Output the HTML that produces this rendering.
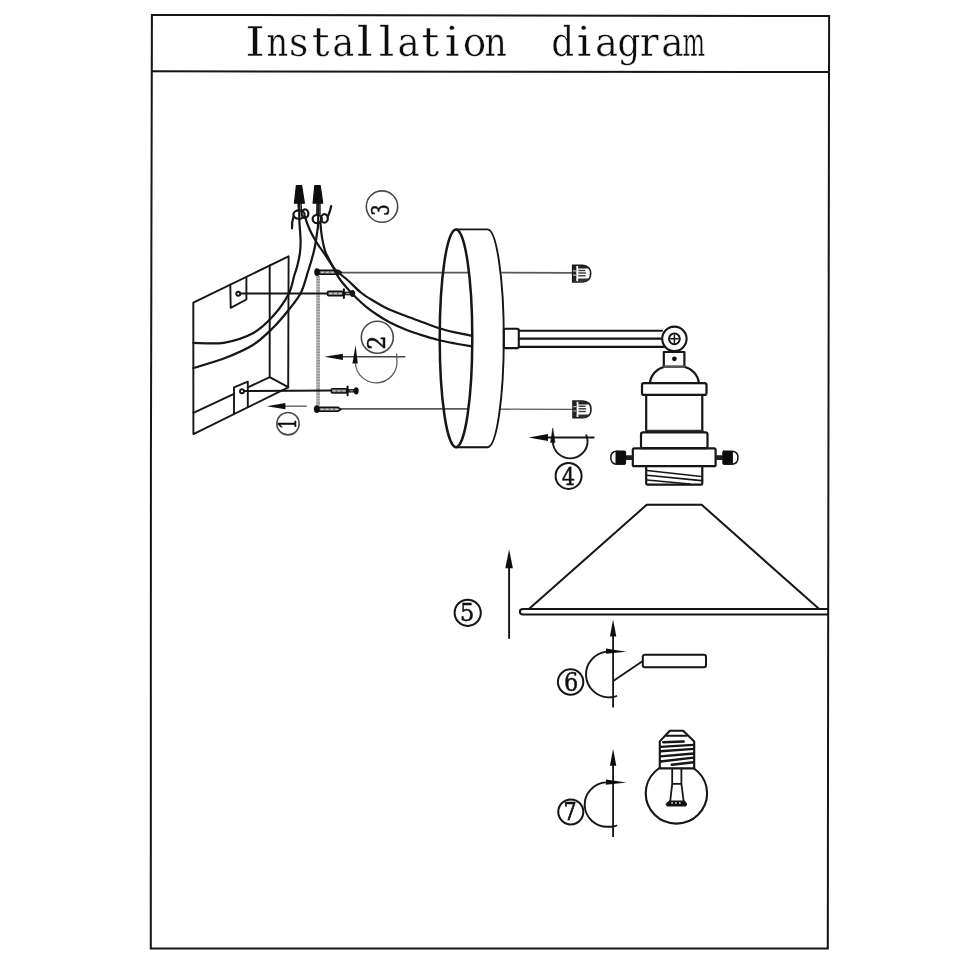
<!DOCTYPE html>
<html lang="en">
<head>
<meta charset="utf-8">
<title>Installation diagram</title>
<style>
html,body{margin:0;padding:0;background:#fff;}
body{width:960px;height:960px;overflow:hidden;font-family:"Liberation Serif",serif;}
svg{display:block;}
</style>
</head>
<body>
<svg width="960" height="960" viewBox="0 0 960 960">
<defs><filter id="soft" x="0" y="0" width="960" height="960" filterUnits="userSpaceOnUse"><feGaussianBlur stdDeviation="0.45"/></filter></defs>
<rect width="960" height="960" fill="#fff"/>
<g filter="url(#soft)">
<g id="frame" fill="none" stroke="#141414" stroke-width="2" stroke-linejoin="miter">
<path d="M151.9,14.9 L829.1,16 L828.2,600 L827.8,948.6 L150.8,948.4 L150.9,470 Z"/>
<path d="M152,71.3 L829,72"/>
</g>
<text id="title" aria-label="Installation  diagram" transform="scale(1,1.040)" y="54.13" xml:space="preserve" font-family="'DejaVu Serif', serif" font-size="40" fill="#111" stroke="#fff" stroke-width="0.4"><tspan x="244.9" textLength="20.12" lengthAdjust="spacingAndGlyphs">I</tspan><tspan x="266.5" textLength="21.65" lengthAdjust="spacingAndGlyphs">n</tspan><tspan x="288.9" textLength="19.29" lengthAdjust="spacingAndGlyphs">s</tspan><tspan x="311.8" textLength="17.93" lengthAdjust="spacingAndGlyphs">t</tspan><tspan x="332.2" textLength="21.98" lengthAdjust="spacingAndGlyphs">a</tspan><tspan x="356.6" textLength="16.41" lengthAdjust="spacingAndGlyphs">l</tspan><tspan x="378.6" textLength="16.04" lengthAdjust="spacingAndGlyphs">l</tspan><tspan x="397.5" textLength="22.27" lengthAdjust="spacingAndGlyphs">a</tspan><tspan x="421.5" textLength="17.88" lengthAdjust="spacingAndGlyphs">t</tspan><tspan x="444.5" textLength="15.33" lengthAdjust="spacingAndGlyphs">i</tspan><tspan x="462.8" textLength="23.57" lengthAdjust="spacingAndGlyphs">o</tspan><tspan x="484.6" textLength="22.32" lengthAdjust="spacingAndGlyphs">n</tspan>  <tspan x="551.3" textLength="22.82" lengthAdjust="spacingAndGlyphs">d</tspan><tspan x="576.6" textLength="14.96" lengthAdjust="spacingAndGlyphs">i</tspan><tspan x="595.0" textLength="23.02" lengthAdjust="spacingAndGlyphs">a</tspan><tspan x="617.6" textLength="22.82" lengthAdjust="spacingAndGlyphs">g</tspan><tspan x="639.8" textLength="18.93" lengthAdjust="spacingAndGlyphs">r</tspan><tspan x="661.2" textLength="22.33" lengthAdjust="spacingAndGlyphs">a</tspan><tspan x="682.4" textLength="22.61" lengthAdjust="spacingAndGlyphs">m</tspan></text>
<path d="M318.1,276 L318.1,405.5" stroke="#bcbcbc" stroke-width="3.6" fill="none"/>
<path d="M318.1,276 L318.1,405.5" stroke="#949494" stroke-width="3.6" stroke-dasharray="1.4 1.4" fill="none"/>
<g id="box" fill="none" stroke="#141414" stroke-width="1.9" stroke-linejoin="round" stroke-linecap="round">
<path d="M193.3,302.7 L288.6,256.3 L288.2,387.4 L193.4,434.1 Z"/>
<path d="M269.7,265.5 L269.7,377.2 L288.2,387.2"/>
<path d="M193.4,412.9 L234,393.9 M247.8,387.4 L269.7,377.2"/>
<path d="M230.3,284.5 L230.7,307.8 L246.4,299.5 L246.4,277"/>
<path d="M234,413.8 L234,387.4 L247.8,381.6 L247.8,407.3"/>
<circle cx="238.3" cy="293.7" r="2" stroke-width="1.9"/>
<circle cx="242" cy="391.3" r="2" stroke-width="1.9"/>
<path d="M240.5,293.6 L327.5,293.5" stroke-width="2"/>
<path d="M244.2,391 L331.2,390.6" stroke-width="2"/>
</g>
<g id="screws">
<g fill="none" stroke="#585858" stroke-width="1.7">
<path d="M340.8,272.6 L468.2,272.6 M501.4,272.6 L572,272.8"/>
<path d="M341.2,408.9 L468.6,408.9"/>
<path d="M500.2,409.2 L572.2,409.4" stroke-width="1.3"/>
</g>
<path d="M318.9,270.2 L338.1,270.2 L341.5,272.3 L338.1,274.4 L318.9,274.4 Z" fill="#6a6a6a" stroke="#111" stroke-width="1.4" stroke-linejoin="round"/>
<path d="M320.9,272.3 L338.5,272.3" stroke="#c8c8c8" stroke-width="1.2" stroke-dasharray="3.2 1.6" fill="none"/>
<ellipse cx="317.1" cy="272.1" rx="2.9" ry="3.9" fill="#111"/>
<path d="M318.6,407.2 L337.8,407.2 L341.2,409.3 L337.8,411.4 L318.6,411.4 Z" fill="#6a6a6a" stroke="#111" stroke-width="1.4" stroke-linejoin="round"/>
<path d="M320.6,409.3 L338.2,409.3" stroke="#c8c8c8" stroke-width="1.2" stroke-dasharray="3.2 1.6" fill="none"/>
<ellipse cx="316.8" cy="409.1" rx="2.9" ry="3.9" fill="#111"/>
<rect x="327.5" y="291.3" width="15.6" height="4.4" rx="1.2" fill="#6a6a6a" stroke="#111" stroke-width="1.4"/>
<path d="M329.0,293.5 L342.1,293.5" stroke="#c8c8c8" stroke-width="1.3" stroke-dasharray="3.2 1.6" fill="none"/>
<path d="M343.0,293.5 L351.5,293.5" stroke="#222" stroke-width="3.6" fill="none"/>
<path d="M343.9,289.3 L343.9,297.9" stroke="#111" stroke-width="2" fill="none" stroke-linecap="round"/>
<path d="M346.0,293.5 L349.5,293.5" stroke="#aaa" stroke-width="1" fill="none"/>
<ellipse cx="352.5" cy="293.5" rx="2.5" ry="3.6" fill="#111"/>
<rect x="331.2" y="388.6" width="15.6" height="4.4" rx="1.2" fill="#6a6a6a" stroke="#111" stroke-width="1.4"/>
<path d="M332.7,390.8 L345.8,390.8" stroke="#c8c8c8" stroke-width="1.3" stroke-dasharray="3.2 1.6" fill="none"/>
<path d="M346.7,390.8 L355.2,390.8" stroke="#222" stroke-width="3.6" fill="none"/>
<path d="M347.6,386.6 L347.6,395.2" stroke="#111" stroke-width="2" fill="none" stroke-linecap="round"/>
<path d="M349.7,390.8 L353.2,390.8" stroke="#aaa" stroke-width="1" fill="none"/>
<ellipse cx="356.2" cy="390.8" rx="2.5" ry="3.6" fill="#111"/>
</g>
<g id="wires" fill="none" stroke="#141414" stroke-width="2.2" stroke-linecap="round" stroke-linejoin="round">
<path d="M299.2,203.0 C299.2,206.0 299.2,215.1 299.4,221.2 C299.6,227.4 300.5,234.8 300.6,240.0 C300.7,245.2 300.5,248.3 300.0,252.5 C299.5,256.7 298.4,261.2 297.5,265.0 C296.6,268.8 295.9,270.2 294.4,275.0 C292.9,279.8 292.1,287.2 288.6,294.0 C285.1,300.8 279.2,309.2 273.3,315.8 C267.4,322.4 261.2,328.8 252.9,333.3 C244.6,337.8 233.7,341.2 223.8,342.8 C213.8,344.4 198.4,342.8 193.3,342.8"/>
<path d="M318.3,203.0 C318.3,206.6 318.3,219.3 318.1,224.4 C317.9,229.5 317.4,230.1 316.9,233.8 C316.4,237.4 315.8,242.1 315.0,246.2 C314.2,250.4 313.0,254.6 311.9,258.8 C310.8,262.9 309.9,265.6 308.1,271.2 C306.3,276.9 304.2,286.0 301.0,292.5 C297.8,299.0 293.2,304.2 288.6,310.0 C284.0,315.8 279.2,321.7 273.3,327.5 C267.4,333.3 261.2,339.8 252.9,345.0 C244.6,350.2 233.7,354.7 223.8,358.5 C213.8,362.3 198.4,366.4 193.3,368.0"/>
<path d="M305.0,216.7 C305.6,218.5 307.2,223.8 308.8,227.5 C310.3,231.2 312.5,235.4 314.4,238.8 C316.3,242.1 318.1,244.7 320.0,247.5 C321.9,250.3 323.6,252.7 325.6,255.6 C327.6,258.5 330.0,262.4 331.9,265.0 C333.8,267.6 334.3,268.8 336.9,271.2 C339.5,273.8 343.5,276.5 347.5,280.0 C351.5,283.5 356.5,289.0 360.8,292.5 C365.1,296.0 369.0,298.2 373.3,300.8 C377.6,303.4 381.7,305.9 386.7,308.3 C391.7,310.7 397.8,312.8 403.3,315.0 C408.9,317.2 414.3,319.1 420.0,321.2 C425.7,323.4 431.7,325.8 437.5,327.7 C443.3,329.6 449.4,331.1 455.0,332.4 C460.6,333.7 468.5,335.1 471.2,335.6"/>
<path d="M320.4,221.7 C320.5,222.8 320.6,225.5 320.8,228.0 C321.1,230.5 321.4,233.9 321.9,236.9 C322.4,239.9 323.1,243.7 323.8,246.2 C324.4,248.8 324.8,250.4 325.6,252.5 C326.4,254.6 327.5,256.3 328.8,258.8 C330.0,261.2 331.5,264.2 333.0,267.0 C334.5,269.8 336.1,273.2 337.5,275.6 C338.9,278.1 339.8,279.3 341.7,281.7 C343.6,284.1 346.7,287.6 348.8,290.0 C350.8,292.4 351.5,293.2 354.2,295.8 C356.9,298.4 361.1,302.6 365.0,305.8 C368.9,309.0 373.3,312.2 377.5,315.0 C381.7,317.8 385.1,320.0 390.0,322.5 C394.9,325.0 401.7,328.0 406.7,330.0 C411.7,332.0 414.9,333.0 420.0,334.6 C425.1,336.2 431.7,338.2 437.5,339.7 C443.3,341.2 449.5,342.4 455.0,343.5 C460.5,344.6 468.0,345.8 470.6,346.2"/>
<path d="M298,203 L298.5,211 M301,203 L301.5,211 M317,203 L316.8,214 M320,203 L320,214" stroke-width="1.4"/>
<ellipse cx="299" cy="214.6" rx="5.6" ry="4.2"/>
<ellipse cx="305" cy="213.6" rx="3.4" ry="4.2"/>
<path d="M293.6,216.5 C292.3,220 291.8,224 292,228.3"/>
<ellipse cx="317.2" cy="219" rx="4.6" ry="4.2"/>
<ellipse cx="324.4" cy="218.4" rx="3.4" ry="4.2"/>
<path d="M327.8,216.5 C329.5,213 330.5,209.5 331.2,206"/>
</g>
<g id="nuts" fill="#111" stroke="#111" stroke-width="1.2" stroke-linejoin="round">
<path d="M296.4,185.6 L301.6,185.6 L304.4,203.2 L294.4,203.2 Z"/>
<path d="M314.8,185.6 L320.2,185.6 L322.7,203.2 L313.1,203.2 Z"/>
</g>
<g id="plate" fill="none" stroke="#141414" stroke-linecap="round">
<ellipse cx="456" cy="338.3" rx="16.3" ry="108.9" stroke-width="2.5"/>
<path d="M456,229.4 L487.5,229.4 A16.3,108.9 0 0 1 487.5,447.2 L456,447.2" stroke-width="1.9"/>
</g>
<g id="arm" fill="none" stroke="#141414" stroke-width="2.1" stroke-linecap="round">
<rect x="503.8" y="328.8" width="15" height="19.3" rx="1.5"/>
<path d="M518.8,330.7 L662,330.7 M518.8,338.6 L661.5,338.6 M518.8,346.9 L664,346.9"/>
<circle cx="674.4" cy="338.8" r="12.2" fill="#fff"/>
<circle cx="674.4" cy="338.8" r="5.4" stroke-width="2"/>
<path d="M674.4,335.2 L674.4,342.4 M670.8,338.8 L678,338.8" stroke-width="1.5"/>
</g>
<g id="socket" fill="none" stroke="#141414" stroke-width="2.2" stroke-linejoin="round" stroke-linecap="round">
<path d="M650,383 C650.6,375 657,368.5 664.5,366.8 M698.8,383 C698.2,375 691.8,368.5 684.3,366.8"/>
<rect x="663.8" y="352" width="20.6" height="14.8" fill="#fff"/>
<path d="M664.5,366.8 L684,366.8" stroke="#555" stroke-width="2.6"/>
<circle cx="674.4" cy="358.8" r="2.4" fill="#111" stroke="none"/>
<rect x="642" y="383.2" width="64.5" height="11.7" rx="2"/>
<path d="M646.2,395 L646.2,431.6 M702.3,395 L702.3,431.6"/>
<path d="M646.2,431 L702.3,431" stroke-width="2.6" stroke="#333"/>
<rect x="641" y="432.4" width="66.5" height="15.8" rx="2"/>
<rect x="632.8" y="448.4" width="82.8" height="17.8" rx="1.5"/>
<path d="M646.2,466.3 L646.2,483.5 Q646.2,484.7 647.5,484.7 L701,484.7 Q702.3,484.7 702.3,483.5 L702.3,466.3"/>
<path d="M647,470.5 L701.5,476.5 M647,475.3 L701.5,480.6 M647,480 L690,484" stroke-width="1.6"/>
<path d="M625,457.6 L632.8,457.6 M715.6,457.6 L723,457.6" stroke-width="4.6" stroke="#222" stroke-linecap="butt"/>
<rect x="616" y="451" width="9.6" height="13.4" rx="1" fill="#111" stroke="#111" stroke-width="1"/>
<path d="M616,451.2 C612,451.6 610.8,454.5 610.8,457.6 C610.8,460.8 612,463.8 616,464.2" stroke-width="1.5"/>
<rect x="722.8" y="451" width="9.6" height="13.4" rx="1" fill="#111" stroke="#111" stroke-width="1"/>
<path d="M732.4,451.2 C736.6,451.6 738,454.5 738,457.6 C738,460.8 736.6,463.8 732.4,464.2" stroke-width="1.5"/>
</g>
<g transform="translate(571.9,273.4)">
<path d="M0.8,-8.2 L11,-8.2 C16.4,-7.6 18.8,-4 18.8,0.2 C18.8,4.4 16.4,8 11,8.6 L0.8,8.6 Z" fill="#fff" stroke="#1a1a1a" stroke-width="1.6"/>
<path d="M0.8,-8 L4.4,-8 L4.4,8.4 L0.8,8.4 Z" fill="#222"/>
<path d="M6.2,-8 L11,-8 C14,-7.6 16,-6.6 17,-4.8 L6.2,-4.8 Z" fill="#222"/>
<path d="M6.2,8.4 L11,8.4 C14,8 16,7 17,5.2 L6.2,5.2 Z" fill="#333"/>
<path d="M6.4,-3 L13.4,-3 M6.4,-0.4 L14,-0.4 M6.4,2.4 L13.6,2.4" stroke="#444" stroke-width="1.5" fill="none"/>
<path d="M1,-2.6 L4.2,-2.6 M1,1.8 L4.2,1.8" stroke="#bbb" stroke-width="1.2" fill="none"/>
</g>
<g transform="translate(572.2,409.2)">
<path d="M0.8,-8.2 L11,-8.2 C16.4,-7.6 18.8,-4 18.8,0.2 C18.8,4.4 16.4,8 11,8.6 L0.8,8.6 Z" fill="#fff" stroke="#1a1a1a" stroke-width="1.6"/>
<path d="M0.8,-8 L4.4,-8 L4.4,8.4 L0.8,8.4 Z" fill="#222"/>
<path d="M6.2,-8 L11,-8 C14,-7.6 16,-6.6 17,-4.8 L6.2,-4.8 Z" fill="#222"/>
<path d="M6.2,8.4 L11,8.4 C14,8 16,7 17,5.2 L6.2,5.2 Z" fill="#333"/>
<path d="M6.4,-3 L13.4,-3 M6.4,-0.4 L14,-0.4 M6.4,2.4 L13.6,2.4" stroke="#444" stroke-width="1.5" fill="none"/>
<path d="M1,-2.6 L4.2,-2.6 M1,1.8 L4.2,1.8" stroke="#bbb" stroke-width="1.2" fill="none"/>
</g>
<g id="shade" fill="none" stroke="#141414" stroke-width="2" stroke-linejoin="round" stroke-linecap="round">
<path d="M529.2,608.8 L646.7,504.8 L701.7,504.8 L818.6,608.6"/>
<path d="M828,609.1 L523,609.1 C518.8,609.1 518.8,614.4 523,614.4 L828,614.4"/>
</g>
<g id="arrows">
<path d="M284.4,406.2 L306.8,406.2" stroke="#777" stroke-width="1.6" fill="none"/>
<path d="M266.8,406.2 L285.4,403.1 L285.4,409.3 Z" fill="#111"/>
<path d="M341.9,356.8 L405.4,356.8" stroke="#444" stroke-width="1.4" fill="none"/>
<path d="M324.4,356.8 L342.9,353.7 L342.9,359.9 Z" fill="#111"/>
<path d="M355.6,345.3 L357.8,363.4 L352.4,363.4 Z" fill="#111"/>
<path d="M355.4,363 A20.8,20.8 0 0 0 397,361 L396.6,353.5" stroke="#555" stroke-width="1.2" fill="none"/>
<path d="M547.0,437.6 L594.4,437.6" stroke="#141414" stroke-width="2.0" fill="none"/>
<path d="M528.6,437.6 L548.0,434.1 L548.0,441.1 Z" fill="#111"/>
<path d="M552.8,428.2 L555,442.6 L550.6,442.6 Z" fill="#111" stroke="#111" stroke-width="0.6" stroke-linejoin="round"/>
<path d="M552.8,441.5 A17.4,17.4 0 0 0 587.6,440.5 L586.2,434.5" stroke="#141414" stroke-width="1.9" fill="none"/>
<path d="M509.1,567.2 L509.1,638.8" stroke="#141414" stroke-width="1.9" fill="none"/>
<path d="M509.1,549.4 L512.9,568.2 L505.3,568.2 Z" fill="#111"/>
<path d="M613.1,635.4 L613.1,707.5" stroke="#141414" stroke-width="1.8" fill="none"/>
<path d="M613.1,619.4 L616.3,636.4 L609.9,636.4 Z" fill="#111"/>
<path d="M626.4,651.8 L606,648.6 L606,653.8 Z" fill="#111"/>
<path d="M606.5,651.6 A23.4,23 0 0 0 608.4,697.4 C612,697.4 615,697 617,695.8" stroke="#141414" stroke-width="1.9" fill="none"/>
<path d="M613.2,681 L642.8,661" stroke="#141414" stroke-width="1.8" fill="none"/>
<rect x="642.8" y="654.7" width="63.2" height="12.5" rx="2.2" stroke="#141414" stroke-width="2" fill="none"/>
<path d="M613.1,764.8 L613.1,836.9" stroke="#141414" stroke-width="1.8" fill="none"/>
<path d="M613.1,748.8 L616.3,765.8 L609.9,765.8 Z" fill="#111"/>
<path d="M626.4,782.6 L606,779.6 L606,784.8 Z" fill="#111"/>
<path d="M606.5,782.4 A22.8,22.2 0 0 0 608.4,826.8 C612,826.8 615,826.4 617,825.2" stroke="#141414" stroke-width="1.9" fill="none"/>
</g>
<g id="bulb" fill="none" stroke="#141414" stroke-width="2.1" stroke-linejoin="round" stroke-linecap="round">
<ellipse cx="676.4" cy="793.3" rx="30.7" ry="30.3" fill="#fff"/>
<path d="M659.8,768.4 L659.8,741.4 L669.8,730.7 L683.2,730.7 L694.2,741.4 L694.2,768.4 Z" fill="#fff"/>
<path d="M663.2,742.3 L683.8,741.5 M660.5,746.9 L693.6,744.9 M660.5,751.3 L693.6,748.9 M660.5,756.4 L693.6,753.5 M660.5,761.5 L693.6,757.6 M671.8,764.8 L693.6,762.2" stroke-width="2.4"/>
<path d="M666.4,735.8 L686.9,735.8" stroke-width="2"/>
<path d="M672.2,768.4 L672.2,783.9 L670.2,801 M681.4,768.4 L681.4,783.9 L683.6,801 M672.2,783.9 L681.4,783.9" stroke-width="1.8"/>
<path d="M669.6,801 L684.4,801 L686.6,804.2 L685.6,806 L667.4,806 L666.2,804.2 Z" fill="#111" stroke-width="1.2"/>
<path d="M671.3,802.9 L672.9,802.9 M675.1,802.9 L676.7,802.9 M679,802.9 L680.6,802.9" stroke="#eee" stroke-width="1.5" stroke-linecap="butt"/>
</g>
<g id="nums" font-family="'DejaVu Serif', 'Liberation Serif', serif" fill="#111">
<circle cx="288.0" cy="423.7" r="11.2" fill="none" stroke="#4a4a4a" stroke-width="1.6"/>
<text transform="translate(295.55,429.22) rotate(-90) scale(0.702,1)" x="0" y="0" font-size="24.12" stroke="#111" stroke-width="0.50" stroke-linejoin="round">1</text>
<circle cx="377.3" cy="337.3" r="16.0" fill="none" stroke="#4a4a4a" stroke-width="1.6"/>
<text transform="translate(385.15,349.52) rotate(-90) scale(0.915,1)" x="0" y="0" font-size="23.71" stroke="#111" stroke-width="0.50" stroke-linejoin="round">2</text>
<circle cx="382.0" cy="206.6" r="15.7" fill="none" stroke="#4a4a4a" stroke-width="1.6"/>
<text transform="translate(389.12,215.81) rotate(-90) scale(0.761,1)" x="0" y="0" font-size="23.53" stroke="#111" stroke-width="0.50" stroke-linejoin="round">3</text>
<circle cx="568.6" cy="475.9" r="13.0" fill="none" stroke="#141414" stroke-width="2.0"/>
<text transform="translate(561.80,485.35) rotate(0) scale(0.845,1)" x="0" y="0" font-size="24.93" stroke="#111" stroke-width="0.50" stroke-linejoin="round">4</text>
<circle cx="467.7" cy="612.8" r="13.1" fill="none" stroke="#141414" stroke-width="2.0"/>
<text transform="translate(459.93,621.40) rotate(0) scale(0.902,1)" x="0" y="0" font-size="25.03" stroke="#111" stroke-width="0.50" stroke-linejoin="round">5</text>
<circle cx="570.6" cy="682.0" r="12.7" fill="none" stroke="#141414" stroke-width="2.0"/>
<text transform="translate(564.04,690.98) rotate(0) scale(0.873,1)" x="0" y="0" font-size="25.78" stroke="#111" stroke-width="0.50" stroke-linejoin="round">6</text>
<circle cx="570.8" cy="811.9" r="12.5" fill="none" stroke="#141414" stroke-width="2.0"/>
<text transform="translate(563.62,820.25) rotate(0) scale(0.879,1)" x="0" y="0" font-size="23.46" stroke="#111" stroke-width="0.70" stroke-linejoin="round">7</text>
</g>
</g>
</svg>
</body>
</html>
